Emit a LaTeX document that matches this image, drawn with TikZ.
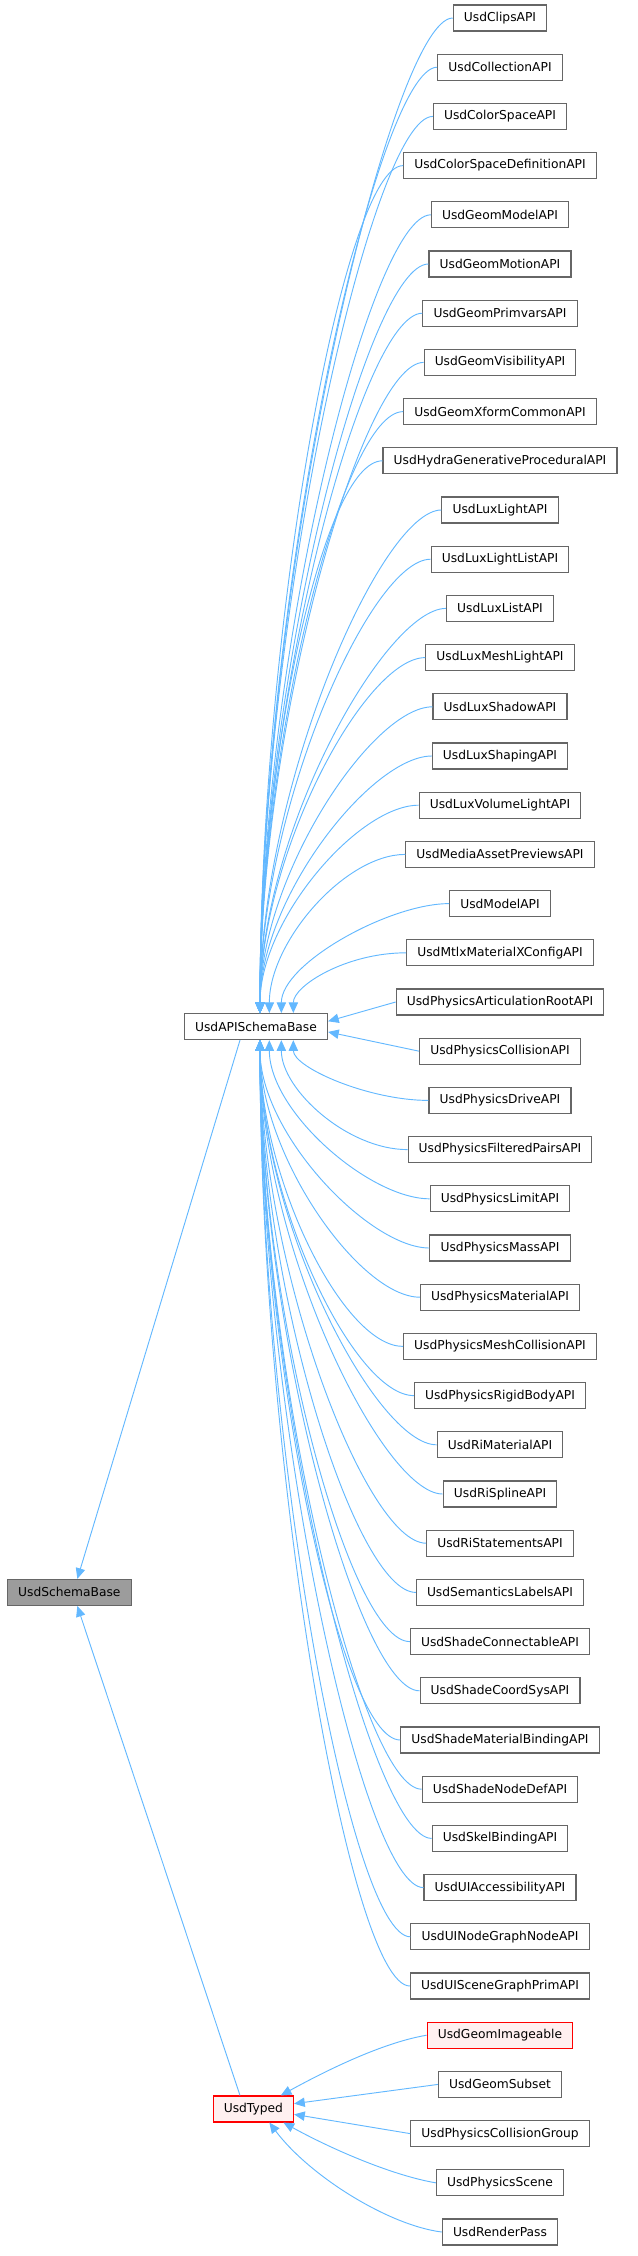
\documentclass[tikz,border=0pt]{standalone}
\usepackage{fontspec}
\setmainfont{DejaVu Sans}
\usetikzlibrary{arrows.meta,calc}
\definecolor{edgeblue}{HTML}{63B8FF}
\definecolor{boxgray}{HTML}{666666}
\begin{document}
\begin{tikzpicture}[x=1pt,y=1pt,
  box/.style={draw=boxgray,fill=white,line width=0.8pt,minimum height=19.5pt,inner xsep=8pt,inner ysep=0pt,font=\fontsize{9.2}{11}\selectfont,text=black},
  redbox/.style={box,draw=red,fill=red!6},
  graybox/.style={box,fill=boxgray!65},
  edge/.style={draw=edgeblue,line width=0.7pt,{Triangle[length=8pt,width=7pt,fill=edgeblue]}-}]
\useasboundingbox (0,0) rectangle (477.75,-1692);
\foreach \n [count=\i from 0] in {UsdClipsAPI,UsdCollectionAPI,UsdColorSpaceAPI,UsdColorSpaceDefinitionAPI,UsdGeomModelAPI,UsdGeomMotionAPI,UsdGeomPrimvarsAPI,UsdGeomVisibilityAPI,UsdGeomXformCommonAPI,UsdHydraGenerativeProceduralAPI,UsdLuxLightAPI,UsdLuxLightListAPI,UsdLuxListAPI,UsdLuxMeshLightAPI,UsdLuxShadowAPI,UsdLuxShapingAPI,UsdLuxVolumeLightAPI,UsdMediaAssetPreviewsAPI,UsdModelAPI,UsdMtlxMaterialXConfigAPI,UsdPhysicsArticulationRootAPI,UsdPhysicsCollisionAPI,UsdPhysicsDriveAPI,UsdPhysicsFilteredPairsAPI,UsdPhysicsLimitAPI,UsdPhysicsMassAPI,UsdPhysicsMaterialAPI,UsdPhysicsMeshCollisionAPI,UsdPhysicsRigidBodyAPI,UsdRiMaterialAPI,UsdRiSplineAPI,UsdRiStatementsAPI,UsdSemanticsLabelsAPI,UsdShadeConnectableAPI,UsdShadeCoordSysAPI,UsdShadeMaterialBindingAPI,UsdShadeNodeDefAPI,UsdSkelBindingAPI,UsdUIAccessibilityAPI,UsdUINodeGraphNodeAPI,UsdUISceneGraphPrimAPI}
  \node[box] (c\i) at (375,{-(13.5+36.9*\i)}) {\n};
\node[redbox] (c41) at (375,{-(13.5+36.9*41)}) {UsdGeomImageable};
\foreach \n [count=\i from 42] in {UsdGeomSubset,UsdPhysicsCollisionGroup,UsdPhysicsScene,UsdRenderPass}
  \node[box] (c\i) at (375,{-(13.5+36.9*\i)}) {\n};
\node[box] (api) at (192,{-(13.5+36.9*20.5)}) {UsdAPISchemaBase};
\node[graybox] (sb) at (52,{-(13.5+36.9*32)}) {UsdSchemaBase};
\node[redbox] (typed) at (190,{-(13.5+36.9*42.5)}) {UsdTyped};
% upper children
\foreach \r in {0,...,19}{
  \pgfmathsetmacro\dx{max(3,28-9*(19-\r))}
  \pgfmathsetmacro\h{0.45*(36.9*(20.5-\r)-9.75)}
  \draw[edge] ($(api.north)+(\dx,0)$) .. controls +(0,\h) and ($(c\r.west)+(-45,0)$) .. (c\r.west);
}
\draw[edge] ($(api.east)+(0,4)$) -- (c20.west);
\draw[edge] ($(api.east)+(0,-4)$) -- (c21.west);
\foreach \r in {22,...,40}{
  \pgfmathsetmacro\dx{max(3,28-9*(\r-22))}
  \pgfmathsetmacro\h{0.45*(36.9*(\r-20.5)-9.75)}
  \draw[edge] ($(api.south)+(\dx,0)$) .. controls +(0,-\h) and ($(c\r.west)+(-45,0)$) .. (c\r.west);
}
% schema base
\draw[edge] ($(sb.north)+(6,0)$) -- ($(api.south)+(-12,0)$);
\draw[edge] ($(sb.south)+(6,0)$) -- ($(typed.north)+(-10,0)$);
% typed children
\draw[edge] ($(typed.north east)+(-10,0)$) .. controls +(40,22) and ($(c41.west)+(-30,-5)$) .. (c41.west);
\draw[edge] ($(typed.east)+(0,4)$) -- (c42.west);
\draw[edge] ($(typed.east)+(0,-4)$) -- (c43.west);
\draw[edge] ($(typed.south east)+(-8,0)$) .. controls +(40,-22) and ($(c44.west)+(-30,5)$) .. (c44.west);
\draw[edge] ($(typed.south)+(12,0)$) .. controls +(30,-40) and ($(c45.west)+(-40,5)$) .. (c45.west);
\end{tikzpicture}
\end{document}
